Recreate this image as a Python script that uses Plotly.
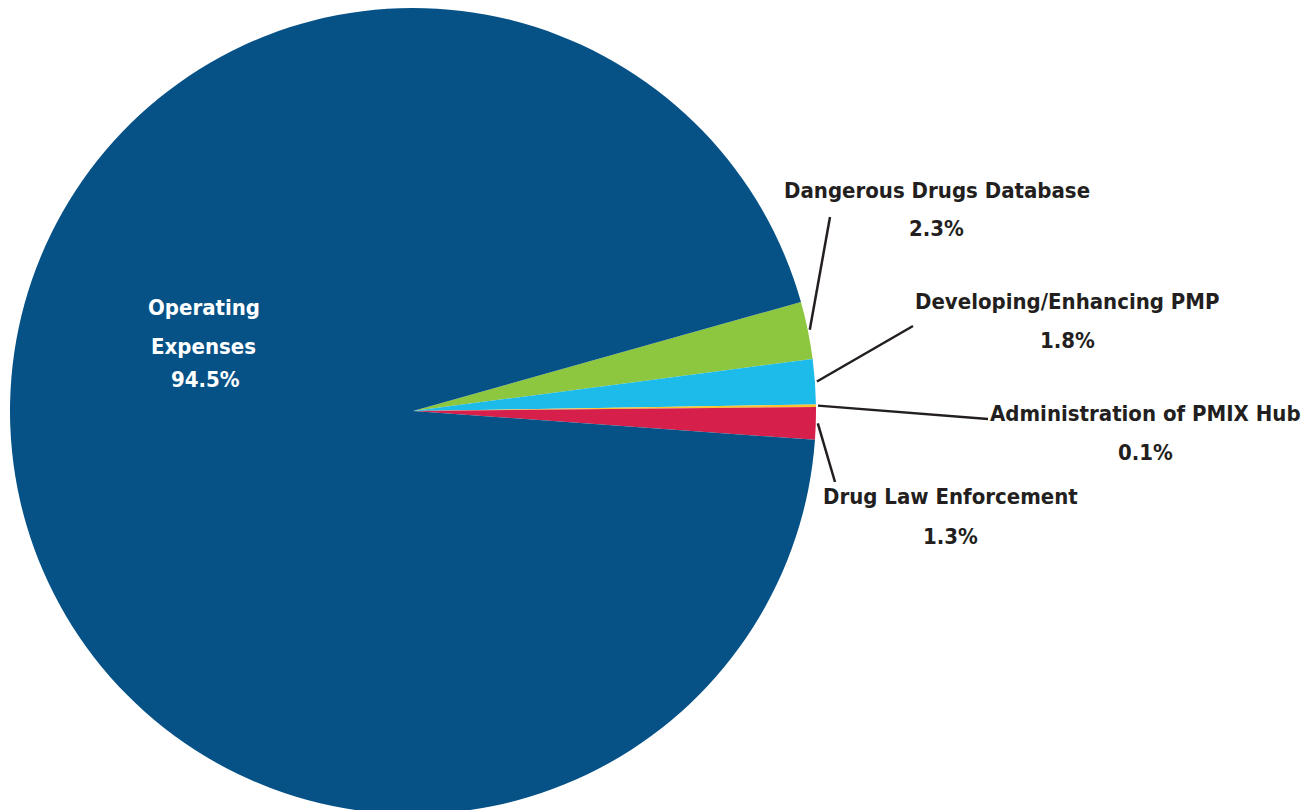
import math
import plotly.graph_objects as go

# ---- data ----
labels = ["Dangerous Drugs Database", "Developing/Enhancing PMP",
          "Administration of PMIX Hub", "Drug Law Enforcement", "Operating Expenses"]
values = [2.3, 1.8, 0.1, 1.3, 94.5]
colors = ["#8DC63F", "#1CBBE9", "#F9C22E", "#D71F4B", "#065287"]

# ---- layout constants ----
W, H = 1313, 810
OFF = 8  # default page body margin
DOM_X = [0.0, 810 / W]
DOM_Y = [1 - 806 / H, 1.0]
ROT = 74.3
FONT = "DejaVu Sans Condensed, sans-serif"
FS = 22
TXT = "#231F20"

# label positions (page pixels): name centre, percent centre, leader end
name_pos = [(937, 190), (1067, 301), (1145, 413), (951, 496)]
pct_pos = [(936, 229), (1067, 340), (1145, 452), (951, 536)]
lead_end = [(830, 217), (913, 326), (988, 419), (835, 482)]
inside_pos = [(204, 307), (204, 346), (205, 379)]

fig = go.Figure(go.Pie(
    labels=labels, values=values, sort=False, direction="clockwise",
    rotation=ROT, marker=dict(colors=colors, line=dict(width=0)),
    textinfo="none", hoverinfo="skip", showlegend=False,
    domain=dict(x=DOM_X, y=DOM_Y),
))

# pie geometry in page pixels
cx = (DOM_X[0] + DOM_X[1]) / 2 * W + OFF
cy = H - (DOM_Y[0] + DOM_Y[1]) / 2 * H + OFF
r = min((DOM_X[1] - DOM_X[0]) * W, (DOM_Y[1] - DOM_Y[0]) * H) / 2
total = sum(values)


def px2paper(x, y):
    return (x - OFF) / W, 1 - (y - OFF) / H


def label(text, pos, color):
    x, y = px2paper(*pos)
    return dict(text=text, x=x, y=y, xref="paper", yref="paper",
                showarrow=False, xanchor="center", yanchor="middle",
                font=dict(family=FONT, size=FS, color=color, weight="bold"))


annotations = []
shapes = []
cum = 0.0
for i, (lab, v) in enumerate(zip(labels, values)):
    mid = ROT + 360 * (cum + v / 2) / total
    cum += v
    if i >= 4:
        continue
    a = math.radians(mid)
    sx, sy = cx + (r + 2) * math.sin(a), cy - (r + 2) * math.cos(a)
    x0, y0 = px2paper(sx, sy)
    x1, y1 = px2paper(*lead_end[i])
    shapes.append(dict(type="line", xref="paper", yref="paper", x0=x0, y0=y0,
                       x1=x1, y1=y1, line=dict(color=TXT, width=2.5)))
    annotations.append(label(lab, name_pos[i], TXT))
    annotations.append(label(f"{v}%", pct_pos[i], TXT))

inside_lines = ["Operating", "Expenses", f"{values[4]}%"]
for t, p in zip(inside_lines, inside_pos):
    annotations.append(label(t, p, "white"))

fig.update_layout(
    width=W, height=H, margin=dict(l=0, r=0, t=0, b=0),
    paper_bgcolor="white", plot_bgcolor="white",
    annotations=annotations, shapes=shapes,
)

fig.write_html("out.html")
